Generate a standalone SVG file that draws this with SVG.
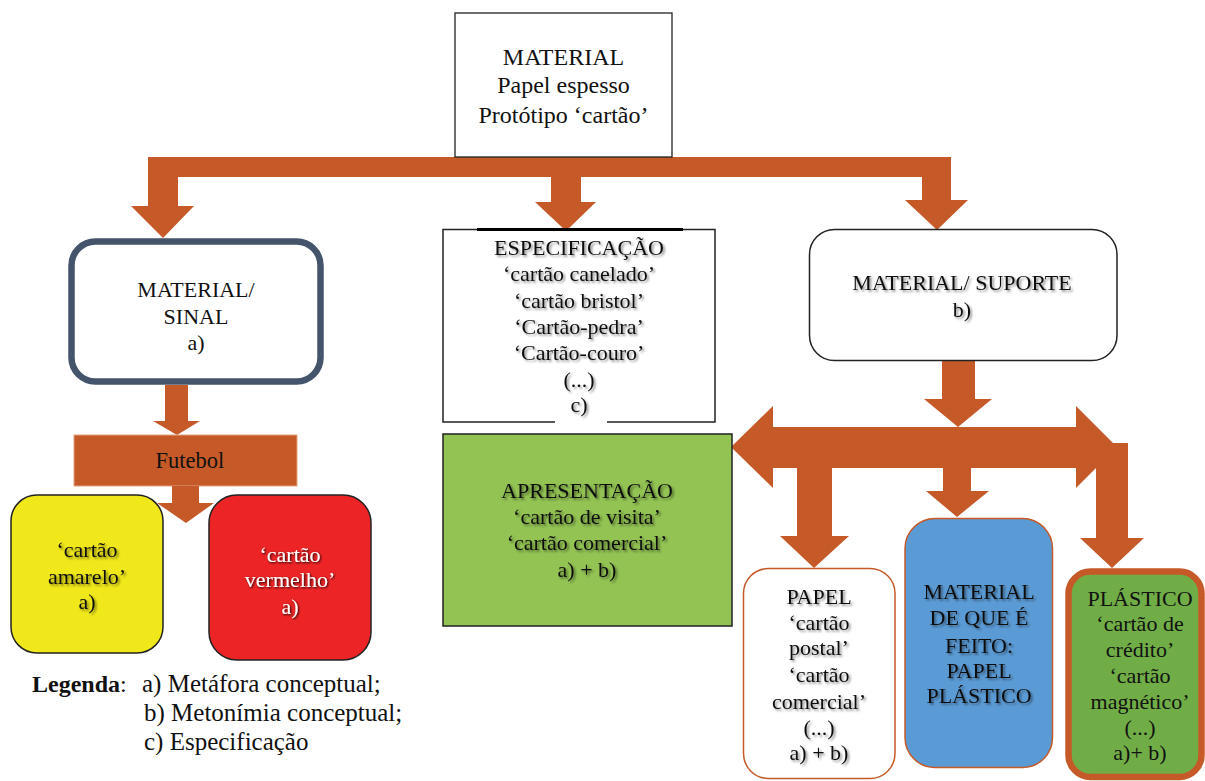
<svg xmlns="http://www.w3.org/2000/svg" width="1205" height="781" viewBox="0 0 1205 781">
<defs>
<filter id="sh" x="-10%" y="-30%" width="120%" height="160%">
<feDropShadow dx="1.8" dy="1.8" stdDeviation="1.2" flood-color="#000" flood-opacity="0.45"/>
</filter>
<filter id="shw" x="-10%" y="-30%" width="120%" height="160%">
<feDropShadow dx="1" dy="1" stdDeviation="0.8" flood-color="#000" flood-opacity="0.9"/>
</filter>
<style>
text{font-family:"Liberation Serif","Times New Roman",serif;fill:#111;text-anchor:middle}
.t{font-size:22px}
.top{font-size:24px}
.lg{font-size:25px;text-anchor:start}
.s{filter:url(#sh)}
.w{fill:#fff;filter:url(#shw)}
.arr{fill:#C55A28}
.box{stroke:#222;stroke-width:1.5}
</style>
</defs>

<g id="connectors">
<polygon class="arr" points="148,157 951,157 951,200 968,200 937,230 905,200 922,200 922,177 581,177 581,202 596,202 566,231 535,202 551,202 551,177 178,177 178,206 194,206 163,238 131,206 148,206"/>
<polygon class="arr" points="165,385 188,385 188,421 200,421 177,435 153,421 165,421"/>
<rect id="futebol-bar" x="74" y="435" width="223" height="51" fill="#C55A28" stroke="#E3A37F" stroke-width="1"/>
<polygon class="arr" points="172,486 199,486 199,503 214,503 186,523 157,503 172,503"/>
<polygon class="arr" points="942,360 975,360 975,399 992,399 958,427 924,399 942,399"/>
<polygon class="arr" points="731,447 773,406 773,427 1076,427 1076,406 1117,447 1076,488 1076,468 971,468 971,491 989,491 957,517 926,491 943,491 943,468 832,468 832,536 849,536 814,568 780,536 797,536 797,468 773,468 773,488"/>
<polygon class="arr" points="1096,443 1128,443 1128,538 1144,538 1112,568 1080,538 1096,538"/>
</g>

<g id="n-material">
<rect x="455" y="13" width="217" height="144" fill="#fff" stroke="#222" stroke-width="1.3"/>
<text class="top" x="563.5" y="65">MATERIAL</text>
<text class="top" x="563.5" y="93">Papel espesso</text>
<text class="top" x="563.5" y="123">Protótipo ‘cartão’</text>
</g>

<g id="n-sinal">
<rect x="71.5" y="241.5" width="249" height="140" rx="24" fill="#fff" stroke="#44546A" stroke-width="6.5"/>
<text class="t" x="196" y="297">MATERIAL/</text>
<text class="t" x="196" y="324">SINAL</text>
<text class="t" x="196" y="350">a)</text>
</g>

<g id="n-futebol">
<text style="font-size:22.5px" x="190" y="468">Futebol</text>
</g>

<g id="n-amarelo">
<rect x="11" y="495" width="152" height="158" rx="26" fill="#F0E81A" class="box"/>
<text class="t s" x="87" y="557">‘cartão</text>
<text class="t s" x="87" y="584">amarelo’</text>
<text class="t s" x="87" y="609">a)</text>
</g>

<g id="n-vermelho">
<rect x="209" y="495" width="162" height="165" rx="28" fill="#EC2426" class="box"/>
<text class="t w" x="290" y="562">‘cartão</text>
<text class="t w" x="290" y="587">vermelho’</text>
<text class="t w" x="290" y="614">a)</text>
</g>

<g id="n-especificacao">
<rect x="443" y="229.5" width="272" height="192.5" fill="#fff" class="box"/>
<line x1="477" y1="229.5" x2="683" y2="229.5" stroke="#000" stroke-width="3"/>
<line x1="555" y1="422" x2="607" y2="422" stroke="#fff" stroke-width="2.5"/>
<text class="t s" x="579" y="255">ESPECIFICAÇÃO</text>
<text class="t s" x="579" y="281">‘cartão canelado’</text>
<text class="t s" x="579" y="308">‘cartão bristol’</text>
<text class="t s" x="579" y="334">‘Cartão-pedra’</text>
<text class="t s" x="579" y="360">‘Cartão-couro’</text>
<text class="t s" x="579" y="387">(...)</text>
<text class="t s" x="579" y="412">c)</text>
</g>

<g id="n-apresentacao">
<rect x="443" y="434" width="289" height="192" fill="#92C353" class="box"/>
<text class="t s" x="587" y="498">APRESENTAÇÃO</text>
<text class="t s" x="587" y="524">‘cartão de visita’</text>
<text class="t s" x="587" y="550">‘cartão comercial’</text>
<text class="t s" x="587" y="577">a) + b)</text>
</g>

<g id="n-suporte">
<rect x="809.5" y="229.5" width="307.5" height="131" rx="25" fill="#fff" class="box"/>
<text class="t s" x="962" y="290">MATERIAL/ SUPORTE</text>
<text class="t s" x="962" y="317">b)</text>
</g>

<g id="n-papel">
<rect x="743.5" y="568.5" width="151.5" height="210" rx="25" fill="#fff" stroke="#C55A28" stroke-width="1.5"/>
<text class="t s" x="819" y="604">PAPEL</text>
<text class="t s" x="819" y="630">‘cartão</text>
<text class="t s" x="819" y="655">postal’</text>
<text class="t s" x="819" y="682">‘cartão</text>
<text class="t s" x="819" y="709">comercial’</text>
<text class="t s" x="819" y="735">(...)</text>
<text class="t s" x="819" y="760">a) + b)</text>
</g>

<g id="n-feito">
<rect x="905" y="518.5" width="147.5" height="249" rx="30" fill="#5B9BD5" stroke="#C55A28" stroke-width="1.5"/>
<text class="t s" x="979" y="599">MATERIAL</text>
<text class="t s" x="979" y="625">DE QUE É</text>
<text class="t s" x="979" y="653">FEITO:</text>
<text class="t s" x="979" y="678">PAPEL</text>
<text class="t s" x="979" y="703">PLÁSTICO</text>
</g>

<g id="n-plastico">
<rect x="1068.5" y="571.5" width="133" height="205.5" rx="22" fill="#70AD47" stroke="#C55A28" stroke-width="6.5"/>
<text class="t" x="1140" y="606">PLÁSTICO</text>
<text class="t" x="1140" y="631">‘cartão de</text>
<text class="t" x="1140" y="657">crédito’</text>
<text class="t" x="1140" y="683">‘cartão</text>
<text class="t" x="1140" y="709">magnético’</text>
<text class="t" x="1140" y="735">(...)</text>
<text class="t" x="1140" y="760">a)+ b)</text>
</g>

<g id="legend">
<text class="lg" x="32" y="692" style="font-size:24px"><tspan font-weight="bold">Legenda</tspan>:</text>
<text class="lg" x="142" y="692">a) Metáfora conceptual;</text>
<text class="lg" x="144" y="721">b) Metonímia conceptual;</text>
<text class="lg" x="144" y="750">c) Especificação</text>
</g>
</svg>
